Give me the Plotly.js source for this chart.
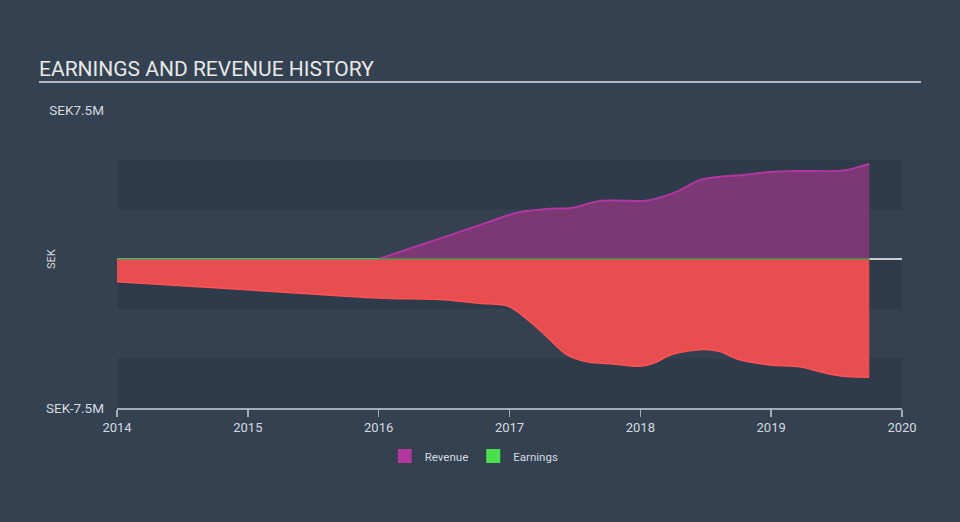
<!DOCTYPE html>
<html>
<head>
<meta charset="utf-8">
<script src="https://cdn.plot.ly/plotly-3.0.1.min.js"></script>
<style>
html,body{margin:0;padding:0;background:#334150;}
#chart{width:960px;height:522px;}
</style>
</head>
<body>
<div id="chart"></div>
<script>
// Revenue (SEK millions)
const revenueYears = [2016.0, 2016.25, 2016.5, 2016.775, 2017.055, 2017.285, 2017.475, 2017.69, 2018.02, 2018.10, 2018.28, 2018.456, 2018.61, 2018.785, 2018.99, 2019.195, 2019.5, 2019.60, 2019.75];
const revenueValues = [0, 0.55, 1.1, 1.71, 2.33, 2.52, 2.57, 2.92, 2.92, 3.0, 3.39, 3.98, 4.14, 4.23, 4.38, 4.43, 4.43, 4.51, 4.78];

// Earnings (SEK millions)
const earningsYears = [2014.0, 2015.0, 2016.0, 2016.5, 2016.77, 2017.0, 2017.23, 2017.44, 2017.59, 2017.79, 2018.0, 2018.1, 2018.25, 2018.48, 2018.61, 2018.74, 2018.99, 2019.22, 2019.42, 2019.58, 2019.75];
const earningsValues = [-1.14, -1.55, -1.96, -2.05, -2.23, -2.40, -3.57, -4.83, -5.17, -5.28, -5.40, -5.25, -4.78, -4.55, -4.66, -5.03, -5.33, -5.42, -5.75, -5.92, -5.95];

const xTickVals = [2014, 2015, 2016, 2017, 2018, 2019, 2020];
const xTickText = ['2014', '2015', '2016', '2017', '2018', '2019', '2020'];
const yTickVals = [-7.5, 7.5];
const yTickText = ['SEK-7.5M', 'SEK7.5M'];
const bandEdges = [[2.5, 5], [-2.5, 0], [-7.5, -5]];

const FONT = 'Roboto, "Open Sans", sans-serif';

const traces = [
  {
    x: earningsYears, y: earningsValues, type: 'scatter', mode: 'lines',
    fill: 'tozeroy', fillcolor: '#e84d50',
    line: {color: '#ff5356', width: 1.5, shape: 'spline', smoothing: 0.8},
    showlegend: false, hoverinfo: 'skip'
  },
  {
    x: revenueYears, y: revenueValues, type: 'scatter', mode: 'lines',
    fill: 'tozeroy', fillcolor: '#7b3874',
    line: {color: '#b0379f', width: 2, shape: 'spline', smoothing: 0.8},
    showlegend: false, hoverinfo: 'skip'
  },
  {
    x: earningsYears, y: earningsYears.map(() => 0), type: 'scatter', mode: 'lines',
    line: {color: '#4e9e4c', width: 1.5},
    showlegend: false, hoverinfo: 'skip'
  },
  {
    x: [null], y: [null], type: 'scatter', mode: 'markers', name: 'Revenue',
    marker: {symbol: 'square', size: 14, color: '#b0389e'}
  },
  {
    x: [null], y: [null], type: 'scatter', mode: 'markers', name: 'Earnings',
    marker: {symbol: 'square', size: 14, color: '#4be04b'}
  }
];

const shapes = bandEdges.map(b => ({
  type: 'rect', xref: 'paper', x0: 0, x1: 1, yref: 'y', y0: b[0], y1: b[1],
  fillcolor: '#2e3b4a', line: {width: 0}, layer: 'below'
}));
shapes.push({
  type: 'line', xref: 'paper', x0: 0, x1: 1, yref: 'y', y0: 0, y1: 0,
  line: {color: '#ffffff', width: 1.5}, layer: 'below'
});
shapes.push({
  type: 'line', xref: 'paper', x0: (39 - 117) / 785, x1: (921 - 117) / 785,
  yref: 'paper', y0: (408 - 82) / 298, y1: (408 - 82) / 298,
  line: {color: '#b4b9bf', width: 2}
});

const layout = {
  width: 960, height: 522,
  paper_bgcolor: '#334150', plot_bgcolor: 'rgba(0,0,0,0)',
  margin: {l: 117, r: 58, t: 110, b: 114},
  font: {family: FONT, color: '#d6dae0', size: 12},
  title: {
    text: 'EARNINGS AND REVENUE HISTORY',
    x: 39 / 960, xref: 'container', xanchor: 'left',
    y: 1 - 69 / 522, yref: 'container', yanchor: 'middle',
    font: {family: FONT, size: 21, color: '#e8e8e8'}
  },
  xaxis: {
    range: [2014, 2020], tickvals: xTickVals, ticktext: xTickText,
    showgrid: false, zeroline: false, showline: true, linecolor: '#a3adb9', linewidth: 1.5,
    ticks: 'outside', ticklen: 7, tickcolor: '#a3adb9', tickwidth: 1.5,
    tickfont: {family: FONT, size: 13, color: '#d6dae0'}, fixedrange: true
  },
  yaxis: {
    range: [-7.5, 7.5], tickvals: yTickVals, ticktext: yTickText,
    showgrid: false, zeroline: false, showline: false, ticks: '',
    ticklabelstandoff: 12,
    tickfont: {family: FONT, size: 13.5, color: '#d6dae0'}, fixedrange: true
  },
  shapes: shapes,
  annotations: [{
    text: 'SEK', textangle: -90, xref: 'paper', x: (51 - 117) / 785, yref: 'paper', y: 0.5,
    showarrow: false, xanchor: 'center', yanchor: 'middle',
    font: {family: FONT, size: 11, color: '#d6dae0'}
  }],
  showlegend: true,
  legend: {
    orientation: 'h', xref: 'container', x: 0.494, xanchor: 'center',
    yref: 'container', y: 1 - 456 / 522, yanchor: 'middle',
    font: {family: FONT, size: 11.5, color: '#d6dae0'},
    bgcolor: 'rgba(0,0,0,0)', itemwidth: 30
  }
};

Plotly.newPlot('chart', traces, layout, {displayModeBar: false, staticPlot: true});
</script>
</body>
</html>
